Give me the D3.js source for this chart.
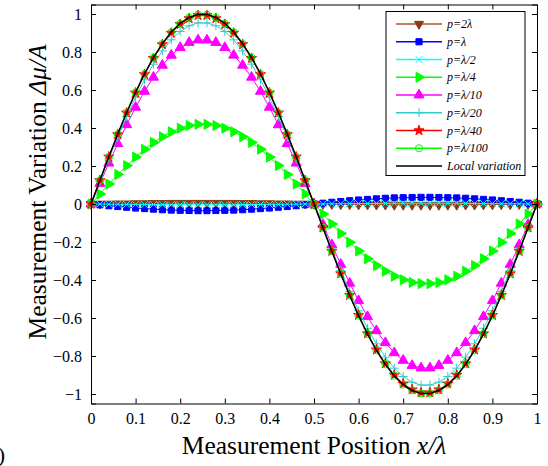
<!DOCTYPE html>
<html>
<head>
<meta charset="utf-8">
<script src="https://cdn.jsdelivr.net/npm/d3@7"></script>
<style>
body { margin: 0; background: #fff; }
svg text { font-family: "Liberation Serif", "Times New Roman", "DejaVu Serif", serif; }
</style>
</head>
<body>
<svg id="visframe" width="548" height="466"></svg>
<script>
// sample positions x/lambda
var xPos = d3.range(51).map(function(i){ return +(i * 0.02).toFixed(2); });

var xTicks = [0, 0.1, 0.2, 0.3, 0.4, 0.5, 0.6, 0.7, 0.8, 0.9, 1];
var yTicks = [-1, -0.8, -0.6, -0.4, -0.2, 0, 0.2, 0.4, 0.6, 0.8, 1];

var p2lambda = [0,0.001,0.001,0.002,0.002,0.003,0.003,0.004,0.004,0.005,0.005,0.005,0.005,0.005,0.005,0.005,0.005,0.004,0.004,0.003,0.003,0.002,0.002,0.001,0.001,0,-0.001,-0.001,-0.002,-0.002,-0.003,-0.003,-0.004,-0.004,-0.005,-0.005,-0.005,-0.005,-0.005,-0.005,-0.005,-0.005,-0.004,-0.004,-0.003,-0.003,-0.002,-0.002,-0.001,-0.001,0];
var pLambda = [0,-0.004,-0.009,-0.013,-0.017,-0.021,-0.024,-0.027,-0.030,-0.032,-0.033,-0.034,-0.035,-0.035,-0.034,-0.033,-0.032,-0.030,-0.027,-0.024,-0.021,-0.017,-0.013,-0.009,-0.004,0,0.004,0.009,0.013,0.017,0.021,0.024,0.027,0.030,0.032,0.033,0.034,0.035,0.035,0.034,0.033,0.032,0.030,0.027,0.024,0.021,0.017,0.013,0.009,0.004,0];
var pLambda2 = [0,0,-0.001,-0.001,-0.002,-0.002,-0.003,-0.003,-0.003,-0.004,-0.004,-0.004,-0.004,-0.004,-0.004,-0.004,-0.004,-0.003,-0.003,-0.003,-0.002,-0.002,-0.001,-0.001,0,0,0,0.001,0.001,0.002,0.002,0.003,0.003,0.003,0.004,0.004,0.004,0.004,0.004,0.004,0.004,0.004,0.003,0.003,0.003,0.002,0.002,0.001,0.001,0,0];
var pLambda4 = [0,0.053,0.105,0.155,0.202,0.247,0.288,0.324,0.354,0.380,0.399,0.413,0.419,0.419,0.413,0.399,0.380,0.354,0.324,0.288,0.247,0.202,0.155,0.105,0.053,0,-0.053,-0.105,-0.155,-0.202,-0.247,-0.288,-0.324,-0.354,-0.380,-0.399,-0.413,-0.419,-0.419,-0.413,-0.399,-0.380,-0.354,-0.324,-0.288,-0.247,-0.202,-0.155,-0.105,-0.053,0];
var pLambda10 = [0,0.108,0.215,0.318,0.417,0.509,0.593,0.667,0.730,0.783,0.823,0.850,0.863,0.863,0.850,0.823,0.783,0.730,0.667,0.593,0.509,0.417,0.318,0.215,0.108,0,-0.108,-0.215,-0.318,-0.417,-0.509,-0.593,-0.667,-0.730,-0.783,-0.823,-0.850,-0.863,-0.863,-0.850,-0.823,-0.783,-0.730,-0.667,-0.593,-0.509,-0.417,-0.318,-0.215,-0.108,0];
var pLambda20 = [0,0.119,0.238,0.351,0.460,0.562,0.654,0.736,0.806,0.864,0.908,0.938,0.953,0.953,0.938,0.908,0.864,0.806,0.736,0.654,0.562,0.460,0.351,0.238,0.119,0,-0.119,-0.238,-0.351,-0.460,-0.562,-0.654,-0.736,-0.806,-0.864,-0.908,-0.938,-0.953,-0.953,-0.938,-0.908,-0.864,-0.806,-0.736,-0.654,-0.562,-0.460,-0.351,-0.238,-0.119,0];
var pLambda40 = [0,0.124,0.248,0.366,0.480,0.585,0.682,0.767,0.840,0.900,0.946,0.977,0.993,0.993,0.977,0.946,0.900,0.840,0.767,0.682,0.585,0.480,0.366,0.248,0.124,0,-0.124,-0.248,-0.366,-0.480,-0.585,-0.682,-0.767,-0.840,-0.900,-0.946,-0.977,-0.993,-0.993,-0.977,-0.946,-0.900,-0.840,-0.767,-0.682,-0.585,-0.480,-0.366,-0.248,-0.124,0];
var pLambda100 = [0,0.125,0.248,0.367,0.481,0.587,0.684,0.770,0.843,0.904,0.950,0.981,0.997,0.997,0.981,0.950,0.904,0.843,0.770,0.684,0.587,0.481,0.367,0.248,0.125,0,-0.125,-0.248,-0.367,-0.481,-0.587,-0.684,-0.770,-0.843,-0.904,-0.950,-0.981,-0.997,-0.997,-0.981,-0.950,-0.904,-0.843,-0.770,-0.684,-0.587,-0.481,-0.367,-0.248,-0.125,0];
var localVar = [0,0.125,0.249,0.368,0.482,0.588,0.685,0.771,0.844,0.905,0.951,0.982,0.998,0.998,0.982,0.951,0.905,0.844,0.771,0.685,0.588,0.482,0.368,0.249,0.125,0,-0.125,-0.249,-0.368,-0.482,-0.588,-0.685,-0.771,-0.844,-0.905,-0.951,-0.982,-0.998,-0.998,-0.982,-0.951,-0.905,-0.844,-0.771,-0.685,-0.588,-0.482,-0.368,-0.249,-0.125,0];

var seriesLabels = ["p=2\u03bb", "p=\u03bb", "p=\u03bb/2", "p=\u03bb/4", "p=\u03bb/10", "p=\u03bb/20", "p=\u03bb/40", "p=\u03bb/100", "Local variation"];

var margins = { top: 4.5, bottom: 62.5, left: 91, right: 11 };
var serif = "'Liberation Serif', 'Times New Roman', 'DejaVu Serif', serif";

// marker shapes, one per series
var plusPath = "M-4.5,0L4.5,0M0,-4.5L0,4.5";
var xPath = "M-3.5,-3.5L3.5,3.5M-3.5,3.5L3.5,-3.5";
var styles = [
    {line: "#a8552a", fill: "#8b3a0f", stroke: "#8b3a0f", shape: d3.symbolTriangle, size: 36, rot: 180},
    {line: "#0000ff", fill: "#0000ff", stroke: "#0000ff", shape: d3.symbolSquare, size: 38, rot: 0},
    {line: "#00ffff", fill: "none", stroke: "#00ffff", path: xPath},
    {line: "#00ff00", fill: "#00ff00", stroke: "#00ff00", shape: d3.symbolTriangle, size: 44, rot: 90},
    {line: "#ff00ff", fill: "#ff00ff", stroke: "#ff00ff", shape: d3.symbolTriangle, size: 44, rot: 0},
    {line: "#33cccc", fill: "none", stroke: "#33cccc", path: plusPath},
    {line: "#ff0000", fill: "#ff0000", stroke: "#ff0000", shape: d3.symbolStar, size: 32, rot: 0},
    {line: "#00ff00", fill: "none", stroke: "#00ff00", shape: d3.symbolCircle, size: 40, rot: 0},
    {line: "#000000", width: 1.5}
];

function go(){
    var svg = d3.select("#visframe");
    var w = +svg.attr("width");
    var h = +svg.attr("height");
    var plot_w = w - margins.left - margins.right;
    var plot_h = h - margins.top - margins.bottom;

    var xScale = d3.scaleLinear().domain([0, 1]).range([0, plot_w]);
    var yScale = d3.scaleLinear().domain([-1.05, 1.05]).range([plot_h, 0]);

    var plot = svg.append("g")
        .attr("transform", "translate(" + margins.left + "," + margins.top + ")");

    var allSeries = [p2lambda, pLambda, pLambda2, pLambda4, pLambda10, pLambda20, pLambda40, pLambda100, localVar];

    var line = d3.line()
        .x(function(d, i){ return xScale(xPos[i]); })
        .y(function(d){ return yScale(d); });

    allSeries.forEach(function(vals, si){
        var st = styles[si];
        var g = plot.append("g");
        g.append("path")
            .datum(vals)
            .attr("d", line)
            .attr("fill", "none")
            .attr("stroke", st.line)
            .attr("stroke-width", st.width || 1);
        if(si < 8){
            g.selectAll("path.mk")
                .data(vals)
                .enter()
                .append("path")
                .attr("class", "mk")
                .attr("d", markerPath(st))
                .attr("transform", function(d, i){
                    return "translate(" + xScale(xPos[i]) + "," + yScale(d) + ") rotate(" + (st.rot || 0) + ")";
                })
                .attr("fill", st.fill)
                .attr("stroke", st.stroke)
                .attr("stroke-width", 1);
        }
    });

    //AXES: inward ticks on all four sides, matlab style
    var tickLen = 5;
    plot.append("g")
        .attr("transform", "translate(0," + plot_h + ")")
        .call(d3.axisBottom(xScale).tickValues(xTicks).tickSize(-tickLen).tickPadding(9)
            .tickFormat(function(d){ return d === 0 || d === 1 ? d : d.toFixed(1); }))
        .call(styleAxis);
    plot.append("g")
        .call(d3.axisTop(xScale).tickValues(xTicks).tickSize(-tickLen).tickFormat(""))
        .call(styleAxis);
    plot.append("g")
        .call(d3.axisLeft(yScale).tickValues(yTicks).tickSize(-tickLen).tickPadding(9)
            .tickFormat(function(d){
                if(d === 0) return "0";
                var s = Math.abs(d) === 1 ? "1" : Math.abs(d).toFixed(1);
                return d < 0 ? "\u2212" + s : s;
            }))
        .call(styleAxis);
    plot.append("g")
        .attr("transform", "translate(" + plot_w + ",0)")
        .call(d3.axisRight(yScale).tickValues(yTicks).tickSize(-tickLen).tickFormat(""))
        .call(styleAxis);

    // AXIS TITLES
    var xt = svg.append("text")
        .attr("x", margins.left + plot_w / 2)
        .attr("y", 454)
        .attr("text-anchor", "middle")
        .style("font-family", serif)
        .style("font-size", "25.5px");
    xt.append("tspan").text("Measurement Position ");
    xt.append("tspan").style("font-style", "italic").text("x/\u03bb");

    var yt = svg.append("text")
        .attr("transform", "translate(46,192) rotate(-90)")
        .attr("text-anchor", "middle")
        .style("font-family", serif)
        .style("font-size", "25.5px");
    yt.append("tspan").text("Measurement Variation ");
    yt.append("tspan").style("font-style", "italic").text("\u0394\u03bc/A");

    svg.append("text")
        .attr("x", 5)
        .attr("y", 462)
        .attr("text-anchor", "end")
        .style("font-family", serif)
        .style("font-size", "22px")
        .text("(b)");

    drawLegend(svg);
}

function markerPath(st){
    if(st.path) return st.path;
    return d3.symbol().type(st.shape).size(st.size)();
}

function styleAxis(g){
    g.attr("font-family", null).attr("font-size", null);
    g.select(".domain").attr("stroke", "#000").attr("stroke-width", 1);
    g.selectAll(".tick line").attr("stroke", "#000");
    g.selectAll(".tick text")
        .attr("fill", "#000")
        .style("font-family", serif)
        .style("font-size", "16px");
}

function drawLegend(svg){
    var lx = 386, ly = 11.5, lw = 139, lh = 164;
    var legend = svg.append("g");
    legend.append("rect")
        .attr("x", lx).attr("y", ly)
        .attr("width", lw).attr("height", lh)
        .attr("fill", "#fff")
        .attr("stroke", "#000")
        .attr("stroke-width", 1);

    var rowScale = d3.scaleLinear().domain([0, 8]).range([24, 166]);

    var rows = legend.selectAll(".legGroup")
        .data(seriesLabels)
        .enter()
        .append("g")
        .attr("class", "legGroup")
        .attr("transform", function(d, i){ return "translate(0," + rowScale(i) + ")"; });

    rows.append("line")
        .attr("x1", 396).attr("x2", 442)
        .attr("stroke", function(d, i){ return styles[i].line; })
        .attr("stroke-width", function(d, i){ return styles[i].width || 1.3; });

    rows.filter(function(d, i){ return i < 8; })
        .append("path")
        .attr("d", function(d, i){ return markerPath(styles[i]); })
        .attr("transform", function(d, i){ return "translate(419,0) rotate(" + (styles[i].rot || 0) + ")"; })
        .attr("fill", function(d, i){ return styles[i].fill; })
        .attr("stroke", function(d, i){ return styles[i].stroke; });

    rows.append("text")
        .attr("x", 447)
        .attr("y", 4)
        .style("font-family", serif)
        .style("font-size", "12px")
        .style("font-style", "italic")
        .text(function(d){ return d; });
}

go();
</script>
</body>
</html>
